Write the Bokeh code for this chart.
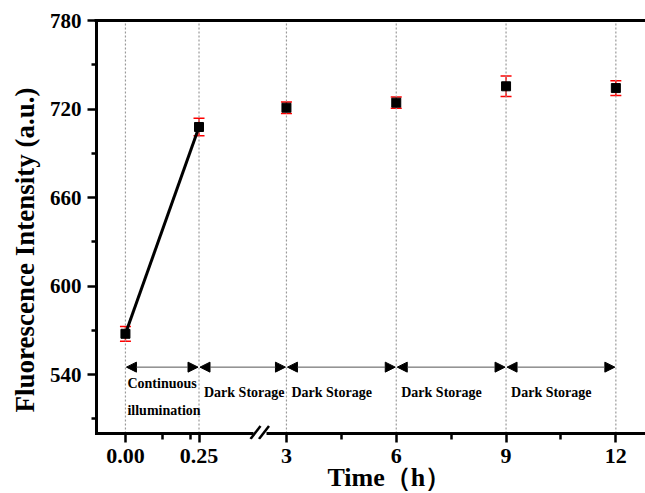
import numpy as np
from bokeh.plotting import figure
from bokeh.models import (Range1d, FixedTicker, LinearAxis, ColumnDataSource, Whisker,
                          TeeHead, Arrow, NormalHead, Title)
from bokeh.core.properties import value
from bokeh.embed import file_html
from bokeh.resources import INLINE

# ---------------- data ----------------
time_h = [0.0, 0.25, 3, 6, 9, 12]
tick_labels = ["0.00", "0.25", "3", "6", "9", "12"]
intensity = [567.6, 707.8, 720.9, 724.3, 735.4, 734.2]
error = [5.0, 6.0, 3.9, 3.8, 7.0, 5.0]
minor_times = [0.125, 0.375, 4.5, 7.5, 10.5]

phase_start = [0.25, 3, 6, 9]
phase_end = [3, 6, 9, 12]
phase_labels = ["Dark Storage", "Dark Storage", "Dark Storage", "Dark Storage"]
illum_start = [0.0]
illum_end = [0.25]
illum_lines = ["Continuous", "illumination"]

y_ticks = [540, 600, 660, 720, 780]
y_minor = [510, 570, 630, 690, 750]
Y_MIN, Y_MAX = 500, 780

# ------------- broken x scale -------------
BREAK_LO, BREAK_HI = 0.25, 3.0
SEG1_SCALE = 294.8        # display units per hour before break
SEG2_ORIGIN = 161.3       # display position of t = 3 h
SEG2_SCALE = 110.0 / 3.0  # display units per hour after break


def xd(t):
    t = np.asarray(t, dtype=float)
    out = np.where(t <= BREAK_LO, t * SEG1_SCALE, SEG2_ORIGIN + (t - BREAK_HI) * SEG2_SCALE)
    return np.round(out, 2)


FONT = "Liberation Serif"

# layout: axis lines drawn inside a slightly larger frame so the break marks are visible
PX_PER_UNIT = 413 / 280.0
PAD_B = 6          # px of frame below the x axis line
X_LEFT = -29       # display position of the y axis line
PAD_L = 2          # px of frame left of the y axis line

p = figure(width=645, height=493,
           x_range=Range1d(X_LEFT - PAD_L, 521),
           y_range=Range1d(Y_MIN - PAD_B / PX_PER_UNIT, Y_MAX),
           output_backend="svg", toolbar_location=None, title=None,
           min_border_left=93, min_border_right=0, min_border_top=20, min_border_bottom=54)
p.outline_line_color = None
p.background_fill_color = "white"
p.border_fill_color = "white"

# axes (ticks and tick labels from Bokeh, axis lines drawn as glyphs)
xt = FixedTicker(ticks=[float(v) for v in xd(time_h)], minor_ticks=[float(v) for v in xd(minor_times)])
yt = FixedTicker(ticks=y_ticks, minor_ticks=y_minor)
p.xaxis.ticker = xt
p.yaxis.ticker = yt
p.xaxis.major_label_overrides = {float(v): lab for v, lab in zip(xd(time_h), tick_labels)}

for ax in (p.xaxis[0], p.yaxis[0]):
    ax.axis_line_color = None
    ax.major_tick_line_width = 2.5
    ax.minor_tick_line_width = 2.5
    ax.major_tick_line_color = "black"
    ax.minor_tick_line_color = "black"
    ax.major_label_text_font = FONT
    ax.major_label_text_font_style = "bold"
    ax.major_label_text_color = "black"

p.xaxis.major_tick_in = PAD_B
p.xaxis.major_tick_out = 3
p.xaxis.minor_tick_in = PAD_B
p.xaxis.minor_tick_out = 0
p.xaxis.major_label_text_font_size = "22px"
p.xaxis.major_label_standoff = 6

p.yaxis.major_tick_in = PAD_L
p.yaxis.major_tick_out = 7
p.yaxis.minor_tick_in = PAD_L
p.yaxis.minor_tick_out = 3
p.yaxis.major_label_text_font_size = "21px"
p.yaxis.major_label_standoff = 6

top = LinearAxis(ticker=FixedTicker(ticks=[]), axis_line_width=3, axis_line_color="black",
                 major_tick_out=0, major_tick_in=0, minor_tick_out=0, minor_tick_in=0,
                 major_label_text_font_size="0px")
p.add_layout(top, "above")

p.add_layout(Title(text="Fluorescence Intensity (a.u.)", align="left", offset=27,
                   standoff=14, text_font=FONT, text_font_style="bold",
                   text_font_size="27px", text_color="black"), "left")
p.add_layout(Title(text="Time（h）", align="left", offset=233, standoff=-9,
                   text_font=FONT, text_font_style="bold",
                   text_font_size="26px", text_color="black"), "below")

p.xgrid.visible = False
p.ygrid.visible = False

# dotted vertical guides at each sampling time
p.segment(x0=xd(time_h), y0=[Y_MIN] * len(time_h), x1=xd(time_h), y1=[Y_MAX] * len(time_h),
          line_color="#9a9a9a", line_dash="2 2", line_width=1.2)

# axis lines
p.segment(x0=[X_LEFT], y0=[Y_MIN], x1=[X_LEFT], y1=[Y_MAX], line_color="black",
          line_width=3, line_cap="square")
p.segment(x0=[X_LEFT], y0=[Y_MIN], x1=[530], y1=[Y_MIN], line_color="black",
          line_width=3, line_cap="square")

# data
src = ColumnDataSource(dict(
    x=xd(time_h), y=intensity,
    upper=np.array(intensity) + np.array(error),
    lower=np.array(intensity) - np.array(error)))

p.line(x=xd(time_h[:2]), y=intensity[:2], line_width=3, line_color="black")

wh = Whisker(base="x", upper="upper", lower="lower", source=src, dimension="height",
             line_color="red", line_width=1.5,
             upper_head=TeeHead(size=11, line_color="red", line_width=1.5),
             lower_head=TeeHead(size=11, line_color="red", line_width=1.5))
wh.level = "underlay"
p.add_layout(wh)

p.scatter(x="x", y="y", source=src, marker="square", size=9,
          fill_color="black", line_color="black")

# phase arrows
ARROW_Y = 545
for s, e in zip(illum_start + phase_start, illum_end + phase_end):
    p.add_layout(Arrow(x_start=float(xd(s)) + 1, x_end=float(xd(e)) - 1,
                       y_start=ARROW_Y, y_end=ARROW_Y,
                       line_color="#555555", line_width=1,
                       start=NormalHead(size=10, fill_color="black", line_color="black"),
                       end=NormalHead(size=10, fill_color="black", line_color="black")))

p.text(x=xd(phase_start), y=[528] * len(phase_start), text=phase_labels,
       x_offset=5, text_align="left", text_baseline="alphabetic",
       text_font=value(FONT), text_font_style="bold", text_font_size="14px", text_color="black")
p.text(x=xd(illum_start * 2), y=[533.9, 515.6], text=illum_lines,
       x_offset=2, text_align="left", text_baseline="alphabetic",
       text_font=value(FONT), text_font_style="bold", text_font_size="14px", text_color="black")

# axis break marks (canvas pixels)
p.add_layout(Arrow(x_start=253, x_end=266, y_start=433, y_end=433,
                   start_units="canvas", end_units="canvas",
                   line_color="white", line_width=5, end=None))
for cx in (255, 263.5):
    p.add_layout(Arrow(x_start=cx - 5, x_end=cx + 5, y_start=438.5, y_end=425.5,
                       start_units="canvas", end_units="canvas",
                       line_color="black", line_width=2.5, end=None))

open("out.html", "w").write(file_html(p, INLINE))
